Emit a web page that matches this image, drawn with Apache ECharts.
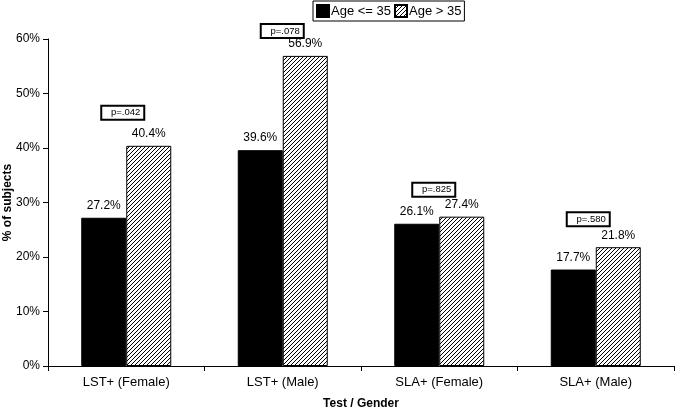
<!DOCTYPE html>
<html>
<head>
<meta charset="utf-8">
<script src="https://cdn.jsdelivr.net/npm/echarts@6/dist/echarts.min.js"></script>
<style>html,body{margin:0;padding:0;background:#fff;}#c{width:675px;height:410px;}</style>
</head>
<body>
<div id="c"></div>
<script>
var categories = ['LST+ (Female)', 'LST+ (Male)', 'SLA+ (Female)', 'SLA+ (Male)'];
var youngValues = [27.2, 39.6, 26.1, 17.7];
var olderValues = [40.4, 56.9, 27.4, 21.8];
var pLabels = ['p=.042', 'p=.078', 'p=.825', 'p=.580'];
var seriesNames = ['Age <= 35', 'Age > 35'];

var cv = document.createElement('canvas');
cv.width = 4; cv.height = 4;
var cx = cv.getContext('2d');
cx.fillStyle = '#fff'; cx.fillRect(0, 0, 4, 4);
cx.strokeStyle = '#000'; cx.lineWidth = 1;
for (var k = -4; k <= 4; k += 4) {
  cx.beginPath(); cx.moveTo(k - 1, 5); cx.lineTo(k + 5, -1); cx.stroke();
}

var boxShiftX = [-26, -23, -28, -30];
var boxShiftY = [-33, -25, -27, -28];

var chart = echarts.init(document.getElementById('c'), null, {renderer: 'canvas'});
var font = 'Liberation Sans, Arial, sans-serif';
chart.setOption({
  animation: false,
  textStyle: {fontFamily: font},
  legend: {
    top: 1, left: 313,
    data: seriesNames,
    icon: 'rect',
    itemWidth: 12, itemHeight: 12, itemGap: 3,
    borderColor: '#000', borderWidth: 1, padding: [3, 3, 3, 3],
    textStyle: {fontSize: 13, color: '#000', fontFamily: font, padding: [0, 0, 0, -3]}
  },
  grid: {left: 48, right: 1, top: 39, bottom: 44, containLabel: false, outerBoundsMode: 'none'},
  xAxis: {
    type: 'category', data: categories,
    axisLine: {lineStyle: {color: '#000', width: 1}},
    axisTick: {show: true, length: 5, lineStyle: {color: '#000'}},
    axisLabel: {color: '#000', fontSize: 13, margin: 10, fontFamily: font},
    name: 'Test / Gender', nameLocation: 'middle', nameGap: 32, nameMoveOverlap: false,
    nameTextStyle: {fontWeight: 'bold', fontSize: 12, color: '#000', fontFamily: font}
  },
  yAxis: {
    type: 'value', min: 0, max: 60, interval: 10,
    axisLine: {show: true, lineStyle: {color: '#000', width: 1}},
    axisTick: {show: true, length: 5, lineStyle: {color: '#000'}},
    splitLine: {show: false},
    axisLabel: {formatter: '{value}%', color: '#000', fontSize: 12, margin: 8, fontFamily: font},
    name: '% of subjects', nameLocation: 'middle', nameGap: 34, nameMoveOverlap: false,
    nameTextStyle: {fontWeight: 'bold', fontSize: 12, color: '#000', fontFamily: font}
  },
  series: [
    {
      name: seriesNames[0], type: 'bar', data: youngValues,
      barWidth: 45, barGap: '0%',
      itemStyle: {color: '#000', borderColor: '#000', borderWidth: 1},
      label: {show: true, position: 'top', distance: 6, formatter: '{c}%', color: '#000', fontSize: 12, fontFamily: font}
    },
    {
      name: seriesNames[1], type: 'bar', data: olderValues,
      barWidth: 45, barGap: '0%',
      itemStyle: {color: {image: cv, repetition: 'repeat'}, borderColor: '#000', borderWidth: 1},
      label: {show: true, position: 'top', distance: 6, formatter: '{c}%', color: '#000', fontSize: 12, fontFamily: font},
      markPoint: {
        symbol: 'rect', symbolSize: [44, 13],
        itemStyle: {color: 'rgba(0,0,0,0)'},
        label: {show: true, position: 'inside', fontFamily: font,
                backgroundColor: '#fff', borderColor: '#000', borderWidth: 2,
                padding: [1, 3, 1, 2],
                formatter: function (p) { return '{a|' + p.name + '}'; },
                rich: {a: {width: 36, height: 10, lineHeight: 10, align: 'right', fontSize: 9.5, color: '#000', fontFamily: font}}},
        data: pLabels.map(function (t, i) {
          return {name: t, coord: [i, olderValues[i]], symbolOffset: [boxShiftX[i], boxShiftY[i]]};
        })
      }
    }
  ]
});
</script>
</body>
</html>
